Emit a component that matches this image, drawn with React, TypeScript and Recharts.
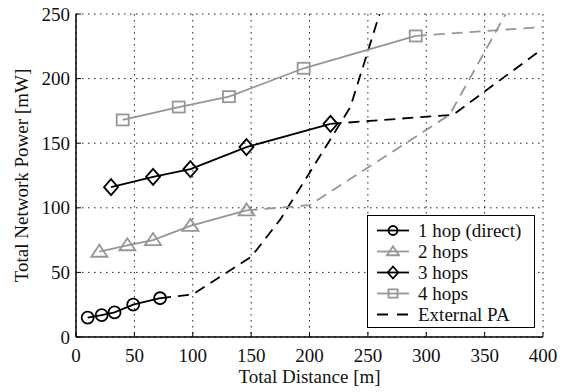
import React from "react";
import { LineChart, Line, XAxis, YAxis, CartesianGrid, Legend } from "recharts";

const FONT = '"Liberation Serif", "Times New Roman", serif';
const GRAY = "#969696";

const xTicks = [0, 50, 100, 150, 200, 250, 300, 350, 400];
const yTicks = [0, 50, 100, 150, 200, 250];

// [distance m, power mW]
const hop1 = [[10, 15], [22, 17], [33, 19], [49, 25], [72, 30]];
const hop2 = [[20, 66], [44, 71], [66, 75], [98, 86], [146, 98]];
const hop3 = [[30, 116], [66, 124], [98, 130], [146, 147], [218, 165]];
const hop4 = [[40, 168], [88, 178], [131, 186], [195, 208], [291, 233]];

// external PA continuations
const ext1 = [[72, 30], [100, 33], [150, 62], [175, 91], [200, 127], [235, 178], [260, 250]];
const ext2 = [[146, 98], [200, 102], [320, 172], [368, 250]];
const ext3 = [[218, 165], [323, 172], [398, 222]];
const ext4 = [[291, 233], [400, 240]];

const toPts = (arr: number[][]) => arr.map(([x, y]) => ({ x, y }));

type Shape = "circle" | "triangle" | "diamond" | "square";

const marker = (shape: Shape, cx: number, cy: number, color: string, s = 1, key?: string) => {
  const common = { fill: "none", stroke: color, strokeWidth: 1.8, key };
  if (shape === "circle") return <circle cx={cx} cy={cy} r={6 * s} {...common} />;
  if (shape === "triangle")
    return (
      <polygon
        points={`${cx},${cy - 7 * s} ${cx - 8 * s},${cy + 5 * s} ${cx + 8 * s},${cy + 5 * s}`}
        {...common}
      />
    );
  if (shape === "diamond")
    return (
      <polygon
        points={`${cx},${cy - 8 * s} ${cx + 7 * s},${cy} ${cx},${cy + 8 * s} ${cx - 7 * s},${cy}`}
        {...common}
      />
    );
  return <rect x={cx - 6 * s} y={cy - 5.5 * s} width={12 * s} height={11 * s} {...common} />;
};

const dotFor = (shape: Shape, color: string, name: string) => (p: any) =>
  marker(shape, p.cx, p.cy, color, 1, `${name}-${p.index}`);

const BottomTick = (p: any) => (
  <g>
    <line x1={p.x} x2={p.x} y1={p.y} y2={p.y - 5} stroke="#000" />
    <text x={p.x} y={p.y + 25} textAnchor="middle" fontSize={19} fontFamily={FONT} fill="#111">
      {p.payload.value}
    </text>
  </g>
);

const LeftTick = (p: any) => (
  <g>
    <line x1={p.x} x2={p.x + 5} y1={p.y} y2={p.y} stroke="#000" />
    <text x={p.x - 6} y={p.y} dy="0.35em" textAnchor="end" fontSize={19} fontFamily={FONT} fill="#111">
      {p.payload.value}
    </text>
  </g>
);

const TopTick = (p: any) => <line x1={p.x} x2={p.x} y1={p.y} y2={p.y + 5} stroke="#000" />;
const RightTick = (p: any) => <line x1={p.x} x2={p.x - 5} y1={p.y} y2={p.y} stroke="#000" />;

const legendItems: { label: string; color: string; shape?: Shape; dashed?: boolean }[] = [
  { label: "1 hop (direct)", color: "#000", shape: "circle" },
  { label: "2 hops", color: GRAY, shape: "triangle" },
  { label: "3 hops", color: "#000", shape: "diamond" },
  { label: "4 hops", color: GRAY, shape: "square" },
  { label: "External PA", color: "#000", dashed: true },
];

const renderLegend = () => (
  <div
    style={{
      width: 168,
      height: 113,
      boxSizing: "border-box",
      border: "1px solid #000",
      background: "#fff",
      padding: "4px 0 0 9px",
      fontFamily: FONT,
      fontSize: 19,
      color: "#111",
    }}
  >
    {legendItems.map((it) => (
      <div key={it.label} style={{ display: "flex", alignItems: "center", height: 21 }}>
        <svg width={32} height={21} style={{ flex: "none" }}>
          <line
            x1={0}
            x2={32}
            y1={10.5}
            y2={10.5}
            stroke={it.color}
            strokeWidth={1.8}
            strokeDasharray={it.dashed ? "11 9" : undefined}
          />
          {it.shape && marker(it.shape, 16, 10.5, it.color, 0.75)}
        </svg>
        <span style={{ marginLeft: 9, whiteSpace: "nowrap" }}>{it.label}</span>
      </div>
    ))}
  </div>
);

const App = () => {
  return (
    <div style={{ position: "absolute", left: 0, top: 0, width: 563, height: 392, background: "#fff" }}>
      <LineChart width={563} height={392} margin={{ top: 14, right: 20, bottom: 10, left: 16 }}>
        <CartesianGrid stroke="#222" strokeDasharray="1.5 4.5" />
        <XAxis
          type="number"
          dataKey="x"
          domain={[0, 400]}
          ticks={xTicks}
          allowDataOverflow
          height={45}
          tickSize={0}
          tickMargin={0}
          tick={BottomTick}
          axisLine={{ stroke: "#000", strokeWidth: 1.5 }}
          label={{
            content: (p: any) => (
              <text
                x={p.viewBox.x + p.viewBox.width / 2}
                y={p.viewBox.y + 46}
                textAnchor="middle"
                fontSize={19}
                fontFamily={FONT}
                fill="#111"
              >
                Total Distance [m]
              </text>
            ),
          }}
        />
        <XAxis
          xAxisId="top"
          orientation="top"
          type="number"
          domain={[0, 400]}
          ticks={xTicks}
          allowDataOverflow
          height={0}
          tickSize={0}
          tickMargin={0}
          tick={TopTick}
          axisLine={{ stroke: "#000", strokeWidth: 1.5 }}
        />
        <YAxis
          type="number"
          domain={[0, 250]}
          ticks={yTicks}
          allowDataOverflow
          width={60}
          tickSize={0}
          tickMargin={0}
          tick={LeftTick}
          axisLine={{ stroke: "#000", strokeWidth: 1.5 }}
          label={{
            content: (p: any) => {
              const cx = p.viewBox.x + 5;
              const cy = p.viewBox.y + p.viewBox.height / 2;
              return (
                <text
                  x={cx}
                  y={cy}
                  dy="0.35em"
                  transform={`rotate(-90, ${cx}, ${cy})`}
                  textAnchor="middle"
                  fontSize={19}
                  fontFamily={FONT}
                  fill="#111"
                >
                  Total Network Power [mW]
                </text>
              );
            },
          }}
        />
        <YAxis
          yAxisId="right"
          orientation="right"
          type="number"
          domain={[0, 250]}
          ticks={yTicks}
          allowDataOverflow
          width={0}
          tickSize={0}
          tickMargin={0}
          tick={RightTick}
          axisLine={{ stroke: "#000", strokeWidth: 1.5 }}
        />

        <Line data={toPts(ext1)} dataKey="y" stroke="#000" strokeWidth={1.8} strokeDasharray="11 7" dot={false} activeDot={false} isAnimationActive={false} />
        <Line data={toPts(ext2)} dataKey="y" stroke={GRAY} strokeWidth={1.8} strokeDasharray="11 7" dot={false} activeDot={false} isAnimationActive={false} />
        <Line data={toPts(ext3)} dataKey="y" stroke="#000" strokeWidth={1.8} strokeDasharray="11 7" dot={false} activeDot={false} isAnimationActive={false} />
        <Line data={toPts(ext4)} dataKey="y" stroke={GRAY} strokeWidth={1.8} strokeDasharray="11 7" dot={false} activeDot={false} isAnimationActive={false} />

        <Line data={toPts(hop1)} dataKey="y" stroke="#000" strokeWidth={1.8} dot={dotFor("circle", "#000", "h1")} activeDot={false} isAnimationActive={false} />
        <Line data={toPts(hop2)} dataKey="y" stroke={GRAY} strokeWidth={1.8} dot={dotFor("triangle", GRAY, "h2")} activeDot={false} isAnimationActive={false} />
        <Line data={toPts(hop3)} dataKey="y" stroke="#000" strokeWidth={1.8} dot={dotFor("diamond", "#000", "h3")} activeDot={false} isAnimationActive={false} />
        <Line data={toPts(hop4)} dataKey="y" stroke={GRAY} strokeWidth={1.8} dot={dotFor("square", GRAY, "h4")} activeDot={false} isAnimationActive={false} />

        <Legend
          layout="vertical"
          align="center"
          verticalAlign="middle"
          content={renderLegend}
          wrapperStyle={{ left: 367, top: 215, width: 168, height: 113 }}
        />
      </LineChart>
    </div>
  );
};

export default App;
